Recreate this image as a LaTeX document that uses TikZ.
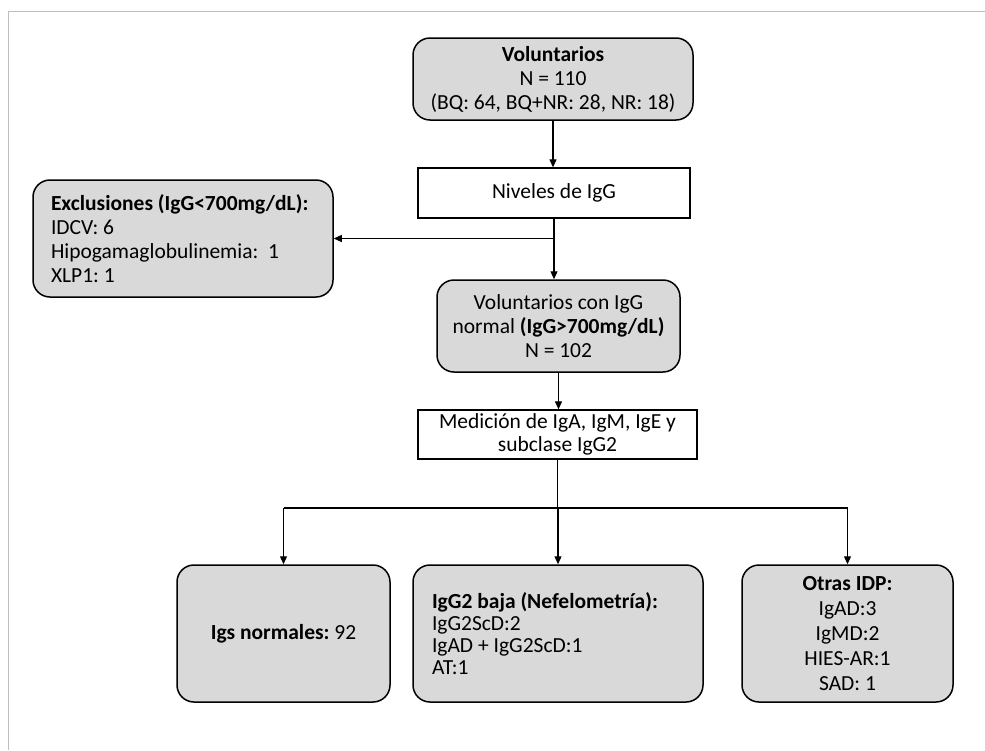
\documentclass[tikz,border=0pt]{standalone}
\usepackage{fontspec}
\setmainfont{Carlito}
\usetikzlibrary{arrows.meta}
\definecolor{boxgray}{RGB}{217,217,217}
\definecolor{framegray}{RGB}{190,190,190}
\begin{document}
\frenchspacing
\begin{tikzpicture}[x=1pt,y=-1pt,
  txt/.style={font=\fontsize{21.5}{24}\selectfont},
  gbox/.style={txt, draw=black, line width=1.5pt, fill=boxgray, rounded corners=17pt, inner sep=0pt},
  wbox/.style={txt, draw=black, line width=1.3pt, fill=white, inner sep=0pt},
  conn/.style={line width=1.2pt, -{Triangle[length=8pt,width=7pt]}},
  plain/.style={line width=1.2pt}]
\useasboundingbox (0,0) rectangle (985,750);
\draw[framegray, line width=1.6pt] (8.5,750) -- (8.5,11.5) -- (985,11.5);

\node[gbox, minimum width=280pt, minimum height=82pt, align=center] (vol) at (553,79)
  {\textbf{Voluntarios}\\N = 110\\(BQ: 64, BQ+NR: 28, NR: 18)};
\node[wbox, minimum width=272pt, minimum height=50pt, align=center] (niv) at (554,193)
  {Niveles de IgG};
\node[gbox, minimum width=300pt, minimum height=117pt, text width=264pt, align=flush left] (excl) at (183,238.5)
  {\textbf{Exclusiones (IgG<700mg/dL):}\\IDCV: 6\\Hipogamaglobulinemia:\ \ 1\\XLP1: 1};
\node[gbox, minimum width=243pt, minimum height=92pt, align=center] (norm) at (558.5,326)
  {Voluntarios con IgG\\normal \textbf{(IgG>700mg/dL)}\\N = 102};
\node[wbox, minimum width=279pt, minimum height=49pt, align=center, font=\fontsize{21.5}{23}\selectfont] (med) at (557.5,434.5)
  {Medición de IgA, IgM, IgE y\\subclase IgG2};
\node[gbox, minimum width=213pt, minimum height=137pt, align=center] (igs) at (283.5,633.5)
  {\textbf{Igs normales:} 92};
\node[gbox, minimum width=290pt, minimum height=137pt, text width=252pt, align=flush left, font=\fontsize{21.5}{22}\selectfont] (igg) at (558,633.5)
  {\textbf{IgG2 baja (Nefelometría):}\\IgG2ScD:2\\IgAD + IgG2ScD:1\\AT:1};
\node[gbox, minimum width=211pt, minimum height=137pt, align=center, font=\fontsize{21.5}{25}\selectfont] (otras) at (847.5,633.5)
  {\textbf{Otras IDP:}\\IgAD:3\\IgMD:2\\HIES-AR:1\\SAD: 1};

\coordinate (j1) at (niv.south |- excl.east);
\coordinate (bar) at (557.5,508);

\draw[conn] (vol.south) -- (vol.south |- niv.north);
\draw[plain] (niv.south) -- (j1);
\draw[conn] (j1) -- (excl.east);
\draw[conn] (j1) -- (j1 |- norm.north);
\draw[conn] (norm.south) -- (norm.south |- med.north);
\draw[plain] (med.south) -- (bar);
\draw[plain] (igs.north |- bar) -- (otras.north |- bar);
\draw[conn] (igs.north |- bar) -- (igs.north);
\draw[conn] (igg.north |- bar) -- (igg.north);
\draw[conn] (otras.north |- bar) -- (otras.north);
\end{tikzpicture}
\end{document}
